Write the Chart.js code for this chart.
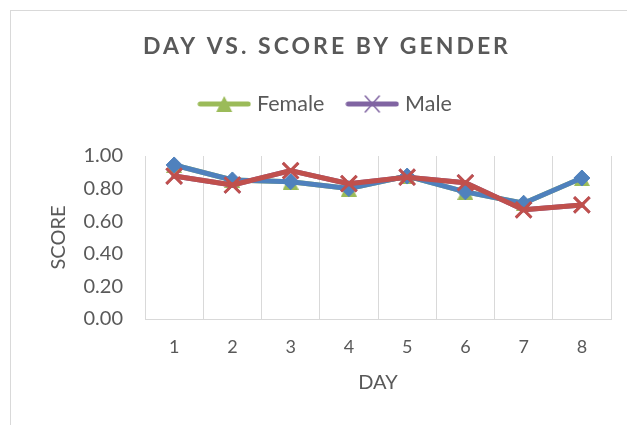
<!DOCTYPE html>
<html>
<head>
<meta charset="utf-8">
<script src="https://cdn.jsdelivr.net/npm/chart.js@4.4.1/dist/chart.umd.min.js"></script>
<style>
html,body{margin:0;padding:0;width:627px;height:425px;overflow:hidden;background:#ffffff;}
#wrap{width:654px;height:425px;}
</style>
</head>
<body>
<div id="wrap"><canvas id="c" width="654" height="425"></canvas></div>
<script>
// ---- data ----
const days = ['1', '2', '3', '4', '5', '6', '7', '8'];
const femaleScores  = [0.945, 0.853, 0.842, 0.800, 0.877, 0.780, 0.710, 0.865];
const maleScores    = [0.877, 0.822, 0.910, 0.830, 0.870, 0.836, 0.670, 0.700];
const series3Scores = [0.945, 0.853, 0.842, 0.800, 0.877, 0.780, 0.710, 0.865];
const series4Scores = [0.877, 0.822, 0.910, 0.830, 0.870, 0.836, 0.670, 0.700];
const seriesNames = ['Female', 'Male', 'Series3', 'Series4'];
const chartTitle = 'DAY VS. SCORE BY GENDER';
const xTitle = 'DAY';
const yTitle = 'SCORE';

// ---- styles ----
const GREEN = '#9BBB59', PURPLE = '#8064A2', BLUE = '#4F81BD', RED = '#C0504D';
const TEXT = '#595959', GRID = '#D9D9D9';

function makeCanvas(w, h, draw) {
  const cv = document.createElement('canvas');
  cv.width = w; cv.height = h;
  draw(cv.getContext('2d'));
  return cv;
}
const triMarker = makeCanvas(16, 16, ctx => {
  ctx.fillStyle = GREEN;
  ctx.beginPath(); ctx.moveTo(8, 0); ctx.lineTo(16, 16); ctx.lineTo(0, 16); ctx.closePath(); ctx.fill();
});
const legendFemale = makeCanvas(54, 18, ctx => {
  ctx.strokeStyle = GREEN; ctx.lineWidth = 5; ctx.lineCap = 'round';
  ctx.beginPath(); ctx.moveTo(3, 9); ctx.lineTo(51, 9); ctx.stroke();
  ctx.fillStyle = GREEN;
  ctx.beginPath(); ctx.moveTo(27, 1); ctx.lineTo(35, 17); ctx.lineTo(19, 17); ctx.closePath(); ctx.fill();
});
const legendMale = makeCanvas(54, 18, ctx => {
  ctx.strokeStyle = PURPLE; ctx.lineWidth = 5; ctx.lineCap = 'round';
  ctx.beginPath(); ctx.moveTo(3, 9); ctx.lineTo(51, 9); ctx.stroke();
  ctx.lineWidth = 1.5;
  ctx.beginPath(); ctx.moveTo(20, 1); ctx.lineTo(34, 17); ctx.moveTo(34, 1); ctx.lineTo(20, 17); ctx.stroke();
});
const legendIcons = [legendFemale, legendMale];

const tweaks = {
  id: 'tweaks',
  afterInit(chart) {
    const lg = chart.legend;
    const fit = lg.fit;
    lg.fit = function () { fit.call(this); if (this.height) this.height += 31.3; };
    const tb = chart.titleBlock;
    const draw = tb.draw;
    tb.draw = function () {
      const ctx = this.ctx; ctx.save(); ctx.letterSpacing = '3px'; draw.call(this); ctx.restore();
    };
  },
  beforeDraw(chart) {
    const ctx = chart.ctx;
    ctx.save();
    ctx.fillStyle = '#ffffff';
    ctx.fillRect(0, 0, chart.width, chart.height);
    ctx.strokeStyle = GRID; ctx.lineWidth = 1;
    ctx.strokeRect(10.5, 10.5, 633, 600);
    ctx.restore();
  }
};

const lineBase = { borderWidth: 5, tension: 0, borderJoinStyle: 'round', borderCapStyle: 'round', fill: false };

new Chart(document.getElementById('c'), {
  type: 'line',
  data: {
    labels: days,
    datasets: [
      Object.assign({}, lineBase, { label: seriesNames[0], data: femaleScores, borderColor: GREEN, backgroundColor: GREEN,
        pointStyle: triMarker, pointRadius: 8, order: 4 }),
      Object.assign({}, lineBase, { label: seriesNames[1], data: maleScores, borderColor: PURPLE, backgroundColor: PURPLE,
        pointStyle: 'crossRot', pointRadius: 11, pointBorderWidth: 2.5, pointBorderColor: PURPLE, order: 3 }),
      Object.assign({}, lineBase, { label: seriesNames[2], data: series3Scores, borderColor: BLUE, backgroundColor: BLUE,
        pointStyle: 'rectRot', pointRadius: 8, pointBorderWidth: 1, pointBorderColor: BLUE, pointBackgroundColor: BLUE, order: 2 }),
      Object.assign({}, lineBase, { label: seriesNames[3], data: series4Scores, borderColor: RED, backgroundColor: RED,
        pointStyle: 'crossRot', pointRadius: 11, pointBorderWidth: 3, pointBorderColor: RED, order: 1 })
    ]
  },
  options: {
    responsive: false,
    animation: false,
    devicePixelRatio: 1,
    layout: { padding: { left: 0, right: 0, top: 0, bottom: 0 } },
    plugins: {
      title: {
        display: true, text: chartTitle, color: TEXT,
        font: { family: 'Lato', size: 23, weight: 'bold' },
        padding: { top: 33, bottom: 6.6 }
      },
      legend: {
        display: true, position: 'top',
        labels: {
          color: TEXT, font: { family: 'Lato', size: 21.5 },
          usePointStyle: true, pointStyleWidth: 44, padding: 26,
          generateLabels(chart) {
            const items = Chart.defaults.plugins.legend.labels.generateLabels(chart);
            return items.filter(it => it.datasetIndex < 2)
                        .map(it => Object.assign(it, { pointStyle: legendIcons[it.datasetIndex] }));
          },
          sort: (a, b) => a.datasetIndex - b.datasetIndex
        }
      },
      tooltip: { enabled: false }
    },
    scales: {
      x: {
        type: 'category',
        offset: true,
        grid: { display: true, color: GRID, lineWidth: 1, offset: true, drawTicks: false },
        border: { display: true, color: GRID, width: 1 },
        ticks: { color: TEXT, font: { family: 'Lato', size: 18 }, padding: 17 },
        title: { display: true, text: xTitle, color: TEXT, font: { family: 'Lato', size: 20 }, padding: { top: 0, bottom: 30 } },
        afterFit(s) { s.height = 106; }
      },
      y: {
        min: 0, max: 1,
        grid: { display: false, drawTicks: false },
        border: { display: false },
        ticks: { stepSize: 0.2, color: TEXT, font: { family: 'Lato', size: 20 }, padding: 22,
                 callback: v => Number(v).toFixed(2) },
        title: { display: true, text: yTitle, color: TEXT, font: { family: 'Lato', size: 20 }, padding: { top: 47, bottom: 0 } },
        afterFit(s) { s.width = 145; }
      },
      yPad: {
        position: 'right',
        grid: { display: false, drawTicks: false },
        border: { display: false },
        ticks: { display: false },
        afterFit(s) { s.width = 43; }
      }
    }
  },
  plugins: [tweaks]
});
</script>
</body>
</html>
